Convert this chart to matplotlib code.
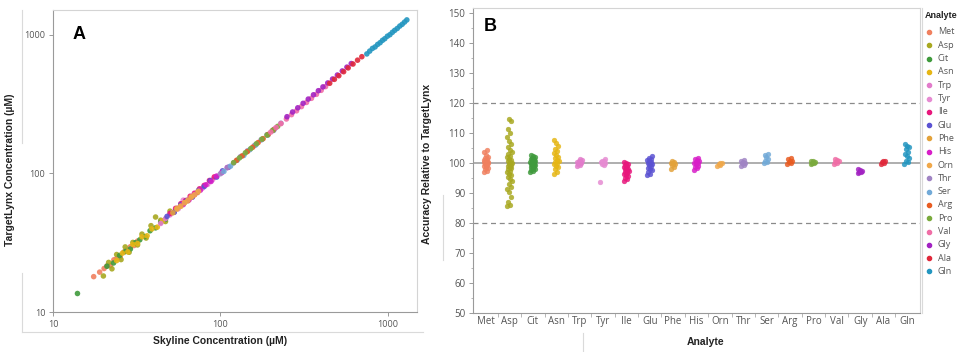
import numpy as np
import matplotlib
matplotlib.use("Agg")
import matplotlib.pyplot as plt
from matplotlib.lines import Line2D
from matplotlib.ticker import FixedLocator, NullLocator, MultipleLocator

# === Data ===
analytes = ["Met", "Asp", "Cit", "Asn", "Trp", "Tyr", "Ile", "Glu", "Phe", "His",
            "Orn", "Thr", "Ser", "Arg", "Pro", "Val", "Gly", "Ala", "Gln"]

colors = ["#F0805F", "#A8A820", "#3F9A3C", "#E6B614", "#E27CCB", "#E68BD2",
          "#E8177C", "#5B52D2", "#E3A23A", "#D81EC8", "#F0A84A", "#A084C4",
          "#72AAD8", "#E85C22", "#7AAA3C", "#F06EA6", "#A222C2", "#E0283A",
          "#2396C0"]

# panel A: Skyline (x) vs TargetLynx (y) concentrations, uM
sky = {
    "Met": [17.5, 19.0, 20.2, 21.0, 22.0, 23.1, 24.0, 25.2, 26.5, 27.8, 29.0, 30.5, 32.0],
    "Asp": [20.0, 21.5, 22.5, 24.0, 25.5, 27.0, 28.5, 30.0, 32.0, 34.0, 36.0, 38.5, 41.0, 44.0, 47.0, 50.0],
    "Cit": [14.0, 21.0, 23.0, 25.0, 27.0, 29.0, 31.0, 33.0, 35.5, 38.0, 41.0, 44.0, 47.0],
    "Asn": [24.0, 26.0, 28.0, 30.0, 32.0, 34.0, 36.5, 39.0, 42.0, 45.0],
    "Trp": [44.0, 47.0, 50.0, 53.0, 56.0, 60.0, 64.0, 68.0],
    "Tyr": [52.0, 56.0, 60.0, 64.0, 68.0, 73.0, 78.0, 84.0, 90.0],
    "Ile": [50.0, 54.0, 58.0, 62.0, 66.0, 70.0, 75.0, 80.0, 86.0, 92.0],
    "Glu": [48.0, 53.0, 58.0, 63.0, 68.0, 74.0, 80.0, 87.0, 95.0, 103.0, 112.0],
    "Phe": [52.0, 55.0, 58.0, 61.0, 64.0, 67.0, 70.0, 73.0],
    "His": [60.0, 65.0, 70.0, 76.0, 82.0, 88.0, 95.0, 102.0, 110.0],
    "Orn": [55.0, 58.0, 61.0, 64.0, 67.0, 70.0, 74.0],
    "Thr": [100.0, 110.0, 120.0, 132.0, 145.0, 160.0, 175.0, 190.0, 210.0, 230.0],
    "Ser": [105.0, 115.0, 126.0, 138.0, 150.0, 163.0, 177.0, 192.0, 208.0],
    "Arg": [125.0, 135.0, 145.0, 156.0, 168.0, 180.0, 193.0, 207.0],
    "Pro": [120.0, 130.0, 141.0, 152.0, 164.0, 177.0, 190.0, 205.0, 220.0],
    "Val": [200.0, 215.0, 230.0, 248.0, 266.0, 285.0, 305.0, 327.0, 350.0, 375.0, 400.0, 425.0],
    "Gly": [250.0, 270.0, 290.0, 312.0, 335.0, 360.0, 385.0, 410.0, 438.0, 468.0, 500.0, 535.0, 570.0, 605.0],
    "Ala": [450.0, 480.0, 510.0, 545.0, 580.0, 620.0, 660.0, 700.0],
    "Gln": [750.0, 780.0, 810.0, 840.0, 870.0, 900.0, 930.0, 960.0, 995.0, 1030.0, 1065.0,
            1100.0, 1140.0, 1180.0, 1220.0, 1260.0, 1300.0],
}
tlx = {
    "Met": [18.0, 19.4, 20.6, 21.5, 21.6, 23.8, 24.3, 25.0, 27.1, 28.0, 29.6, 30.2, 32.5],
    "Asp": [18.2, 22.8, 20.5, 26.0, 23.9, 29.5, 27.0, 31.8, 30.5, 36.5, 34.2, 42.0, 48.5, 46.0, 45.0, 53.5],
    "Cit": [13.6, 21.4, 22.6, 25.6, 27.3, 28.5, 31.6, 33.2, 35.0, 38.6, 40.5, 44.5, 46.6],
    "Asn": [23.5, 26.6, 27.2, 30.8, 31.2, 34.9, 35.5, 39.8, 41.0, 45.5],
    "Trp": [43.6, 47.2, 50.3, 52.6, 56.4, 59.5, 64.3, 67.6],
    "Tyr": [52.3, 55.6, 64.2, 63.6, 68.4, 72.7, 78.3, 83.5, 90.5],
    "Ile": [51.5, 56.0, 60.5, 63.8, 68.5, 72.0, 77.5, 82.0, 89.0, 94.5],
    "Glu": [49.0, 52.5, 59.5, 63.8, 67.5, 75.5, 80.4, 88.8, 94.2, 104.5, 111.0],
    "Phe": [52.0, 56.0, 58.2, 61.5, 63.5, 67.8, 70.2, 73.0],
    "His": [60.0, 64.6, 70.6, 75.8, 82.8, 87.6, 95.8, 101.5, 110.4],
    "Orn": [55.3, 58.0, 61.4, 64.2, 67.5, 70.2, 74.5],
    "Thr": [99.6, 110.2, 119.3, 132.4, 145.6, 159.4, 174.8, 190.5, 209.0, 230.6],
    "Ser": [103.5, 113.0, 124.6, 135.0, 148.5, 161.0, 176.0, 189.0, 204.5],
    "Arg": [124.5, 134.0, 144.0, 154.8, 167.2, 178.5, 191.4, 206.0],
    "Pro": [119.8, 129.6, 141.0, 151.4, 163.8, 177.0, 189.5, 204.6, 219.0],
    "Val": [199.0, 214.5, 229.0, 247.5, 266.0, 283.5, 304.0, 326.0, 349.0, 373.0, 398.5, 424.0],
    "Gly": [257.0, 278.0, 298.0, 321.0, 344.5, 370.0, 396.0, 422.0, 450.5, 481.0, 514.0, 550.0, 586.0, 622.0],
    "Ala": [448.0, 478.5, 508.0, 543.0, 578.5, 617.0, 658.0, 697.0],
    "Gln": [730.0, 765.0, 800.0, 820.0, 855.0, 880.0, 915.0, 940.0, 980.0, 1005.0, 1045.0,
            1080.0, 1115.0, 1160.0, 1195.0, 1240.0, 1285.0],
}

# panel B: accuracy relative to TargetLynx (%)
acc = {
    "Met": [96.8, 97.2, 97.8, 98.3, 98.7, 99.0, 99.3, 99.6, 99.8, 100.0, 100.2, 100.4, 100.6,
            100.9, 101.2, 101.6, 102.1, 102.8, 103.5, 104.3],
    "Asp": [85.6, 85.9, 87.0, 88.6, 90.2, 91.3, 92.1, 93.0, 93.8, 94.6, 95.2, 95.8, 96.3, 96.9,
            97.4, 97.9, 98.3, 98.7, 99.1, 99.4, 99.7, 100.0, 100.3, 100.6, 101.0, 101.4, 101.9,
            102.4, 103.0, 103.6, 104.3, 105.2, 106.3, 107.4, 108.7, 110.0, 111.3, 113.9, 114.6],
    "Cit": [96.9, 97.3, 97.7, 98.0, 98.3, 98.6, 98.9, 99.1, 99.3, 99.5, 99.7, 99.9, 100.0, 100.2,
            100.4, 100.6, 100.8, 101.0, 101.2, 101.4, 101.7, 102.0, 102.3, 102.7],
    "Asn": [96.2, 97.0, 97.8, 98.5, 99.0, 99.5, 99.9, 100.2, 100.6, 101.0, 101.5, 102.0, 102.6,
            103.3, 104.0, 104.8, 105.8, 106.8, 107.5],
    "Trp": [98.9, 99.3, 99.6, 99.8, 100.0, 100.2, 100.4, 100.7, 101.0, 101.4],
    "Tyr": [93.5, 99.2, 99.5, 99.8, 100.0, 100.2, 100.5, 100.8, 101.3],
    "Ile": [94.0, 94.6, 95.1, 95.5, 95.9, 96.3, 96.6, 96.9, 97.2, 97.5, 97.8, 98.1, 98.4, 98.7,
            99.0, 99.3, 99.6, 99.9, 100.3],
    "Glu": [95.8, 96.4, 97.0, 97.5, 98.0, 98.4, 98.8, 99.2, 99.5, 99.8, 100.1, 100.4, 100.7,
            101.0, 101.4, 101.8, 102.3],
    "Phe": [97.8, 98.6, 99.2, 99.6, 99.9, 100.1, 100.4, 100.8],
    "His": [97.6, 98.2, 98.7, 99.1, 99.5, 99.8, 100.1, 100.4, 100.7, 101.0, 101.4, 101.8],
    "Orn": [98.9, 99.2, 99.5, 99.8, 100.1],
    "Thr": [98.9, 99.4, 99.8, 100.0, 100.3, 100.7, 101.0],
    "Ser": [99.8, 100.3, 100.8, 101.3, 101.9, 102.5, 103.0],
    "Arg": [99.5, 99.9, 100.2, 100.5, 100.8, 101.2, 101.5],
    "Pro": [99.5, 99.8, 100.0, 100.2, 100.5, 100.8],
    "Val": [99.5, 99.9, 100.2, 100.5, 100.9, 101.3],
    "Gly": [96.6, 96.9, 97.1, 97.3, 97.6, 97.9],
    "Ala": [99.6, 99.9, 100.2, 100.5, 100.8],
    "Gln": [99.6, 100.2, 100.8, 101.5, 102.2, 103.0, 103.8, 104.5, 105.2, 105.8, 106.4],
}

log_ticks = [10, 100, 1000]
acc_ticks = [50, 60, 70, 80, 90, 100, 110, 120, 130, 140, 150]

# === Style ===
TICK_FONT = "Open Sans"
LABEL_FONT = "Liberation Sans"
SPINE_DARK = "#9A9A9A"
SPINE_LIGHT = "#D4D4D4"
TICK_COLOR = "#555555"

fig = plt.figure(figsize=(9.68, 3.52), dpi=100)
W, H = 968.0, 352.0


def px_rect(l, t, r, b):
    return [l / W, 1 - b / H, (r - l) / W, (b - t) / H]


def style_axes(ax):
    ax.spines["left"].set_color(SPINE_DARK)
    ax.spines["bottom"].set_color(SPINE_DARK)
    ax.spines["top"].set_color(SPINE_LIGHT)
    ax.spines["right"].set_color(SPINE_LIGHT)
    for s in ax.spines.values():
        s.set_linewidth(0.8)
    ax.tick_params(which="both", direction="out", color=SPINE_DARK, labelcolor=TICK_COLOR)
    ax.tick_params(which="major", length=3, width=0.7, pad=2.5)
    ax.tick_params(which="minor", length=1.8, width=0.5)


# === Panel A ===
axA = fig.add_axes(px_rect(53, 10, 417, 312))
for name, c in zip(analytes, colors):
    axA.scatter(sky[name], tlx[name], s=16, color=c, edgecolors="none", alpha=0.9, zorder=3)
axA.set_xscale("log")
axA.set_yscale("log")
axA.set_xlim(10, 1495)
axA.set_ylim(10, 1515)
axA.xaxis.set_major_locator(FixedLocator(log_ticks))
axA.yaxis.set_major_locator(FixedLocator(log_ticks))
axA.xaxis.set_minor_locator(NullLocator())
axA.yaxis.set_minor_locator(NullLocator())
axA.set_xticklabels([str(t) for t in log_ticks])
axA.set_yticklabels([str(t) for t in log_ticks])
style_axes(axA)
for lab in axA.get_xticklabels() + axA.get_yticklabels():
    lab.set_fontfamily(TICK_FONT)
    lab.set_fontsize(6.5)
axA.set_xlabel("Skyline Concentration (\u00b5M)", fontfamily=LABEL_FONT, fontweight="bold",
               fontsize=7.5, color="#222222")
axA.set_ylabel("TargetLynx Concentration (\u00b5M)", fontfamily=LABEL_FONT, fontweight="bold",
               fontsize=7.5, color="#222222")
axA.xaxis.set_label_coords(0.46, -0.08)
axA.yaxis.set_label_coords(-0.104, 0.47)
axA.text(0.055, 0.92, "A", transform=axA.transAxes, fontfamily=LABEL_FONT,
         fontweight="bold", fontsize=13, va="center", ha="left")

# === Panel B ===
axB = fig.add_axes(px_rect(473, 8, 920, 313))
pos = np.arange(len(analytes))
jit_w = 0.11
for i, (name, c) in enumerate(zip(analytes, colors)):
    vals = np.array(acc[name])
    off = ((np.arange(len(vals)) * 0.6180339887) % 1.0 - 0.5) * 2 * jit_w
    axB.scatter(pos[i] + off, vals, s=12, color=c, edgecolors=c, linewidths=0.3,
                alpha=0.85, zorder=3)
axB.axhline(100, color="#A8A8A8", lw=1.3, zorder=2)
axB.axhline(120, color="#8A8A8A", lw=0.9, ls=(0, (4, 3)), zorder=2)
axB.axhline(80, color="#8A8A8A", lw=0.9, ls=(0, (4, 3)), zorder=2)
axB.set_xlim(-0.56, len(analytes) - 0.44)
axB.set_ylim(49.9, 151.7)
axB.set_xticks(pos)
axB.set_xticklabels(analytes)
axB.yaxis.set_major_locator(FixedLocator(acc_ticks))
axB.yaxis.set_minor_locator(MultipleLocator(5))
axB.xaxis.set_minor_locator(FixedLocator(pos[:-1] + 0.5))
style_axes(axB)
axB.tick_params(axis="x", which="major", length=0)
axB.tick_params(axis="x", which="minor", length=3)
for lab in axB.get_xticklabels() + axB.get_yticklabels():
    lab.set_fontfamily(TICK_FONT)
    lab.set_fontsize(7)
axB.set_xlabel("Analyte", fontfamily=LABEL_FONT, fontweight="bold", fontsize=7.5,
               color="#222222")
axB.set_ylabel("Accuracy Relative to TargetLynx", fontfamily=LABEL_FONT, fontweight="bold",
               fontsize=7.5, color="#222222")
axB.xaxis.set_label_coords(0.52, -0.08)
axB.yaxis.set_label_coords(-0.092, 0.49)
axB.text(0.025, 0.94, "B", transform=axB.transAxes, fontfamily=LABEL_FONT,
         fontweight="bold", fontsize=13, va="center", ha="left")

# === Legend (JMP style, right of panel B) ===
fig.text(925 / W, 1 - 15 / H, "Analyte", fontfamily=LABEL_FONT, fontweight="bold",
         fontsize=6.5, va="center", ha="left", color="#222222")
for k, (name, c) in enumerate(zip(analytes, colors)):
    yk = 1 - (32 + k * 13.3) / H
    fig.add_artist(Line2D([929 / W], [yk], marker="o", markersize=3, color=c, lw=0,
                          transform=fig.transFigure))
    fig.text(938 / W, yk, name, fontfamily=TICK_FONT, fontsize=6.5, va="center", ha="left",
             color="#555555")


# === Frame lines around axis titles ===
def frame_line(x0, y0, x1, y1):
    fig.add_artist(Line2D([x0 / W, x1 / W], [1 - y0 / H, 1 - y1 / H], color="#DADADA",
                          lw=0.8, transform=fig.transFigure))


frame_line(22, 10, 22, 143)
frame_line(22, 273, 22, 332)
frame_line(22, 332, 423, 332)
frame_line(443, 195, 443, 260)
frame_line(583, 333, 583, 352)
frame_line(922, 8, 922, 313)

fig.savefig("out.png", dpi=100)
